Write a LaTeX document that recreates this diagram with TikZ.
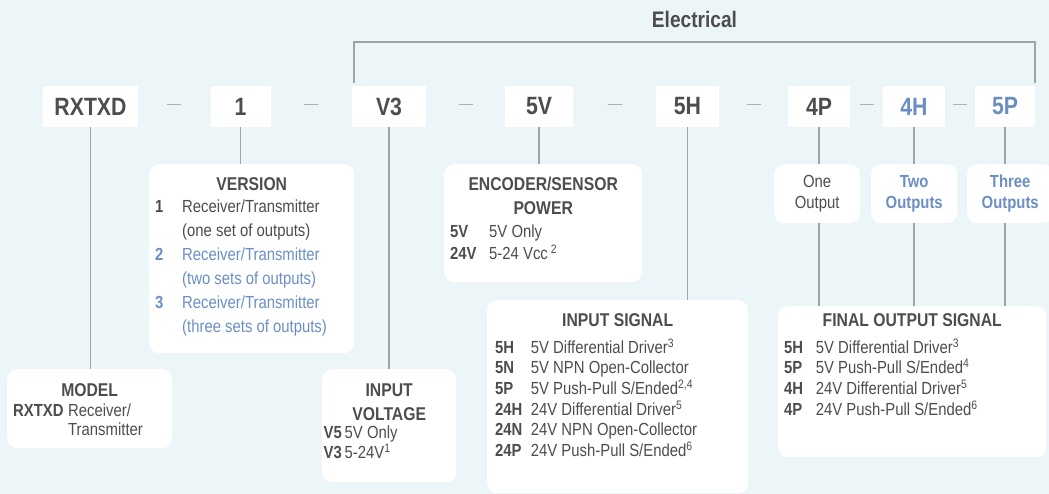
\documentclass[tikz,border=0pt]{standalone}
\usepackage{fontspec}
\setmainfont{Liberation Sans}[FakeStretch=0.85]
\usetikzlibrary{calc}

\definecolor{bg}{HTML}{ECF5F8}
\definecolor{ink}{HTML}{4D4D4D}
\definecolor{opt}{HTML}{6B8FC4}
\definecolor{rule}{HTML}{9BA6A8}
\definecolor{sepc}{HTML}{AAB4B6}

\newcommand{\keylist}[2]{\begin{tabular}[t]{@{}p{#1}@{}l@{}}#2\end{tabular}}
\newcommand{\alt}[1]{\textcolor{opt}{#1}}

\tikzset{
  code/.style={fill=white, inner sep=0pt, minimum height=41pt, text=ink,
    font=\bfseries\fontsize{25}{30}\selectfont},
  panel/.style={fill=white, rounded corners=10pt, inner sep=0pt, anchor=north west},
  head/.style={anchor=base, inner sep=0pt, align=center, text=ink,
    font=\bfseries\fontsize{18.5}{24}\selectfont},
  rows/.style={anchor=base west, inner sep=0pt, text=ink,
    font=\fontsize{17.5}{#1}\selectfont},
  outlbl/.style={inner sep=0pt, align=center, text=ink,
    font=\fontsize{17.5}{21}\selectfont},
  link/.style={draw=rule, line width=1.6pt},
  sep/.style={draw=sepc, line width=1.8pt},
}

\begin{document}
\begin{tikzpicture}[x=1pt, y=-1pt]
\useasboundingbox (0,0) rectangle (1049,494);
\fill[bg] (0,0) rectangle (1049,494);

% part number
\node (cModel) [code, minimum width=95pt] at (90.5,106.5) {RXTXD};
\node (cVer)   [code, minimum width=60pt] at (240.5,106.5) {1};
\node (cVolt)  [code, minimum width=74pt] at (389,106.5) {V3};
\node (cPow)   [code, minimum width=68pt] at (539,106.5) {5V};
\node (cIn)    [code, minimum width=63pt] at (687.5,106.5) {5H};
\node (cOutA)  [code, minimum width=62pt] at (819,106.5) {4P};
\node (cOutB)  [code, minimum width=62pt, text=opt] at (914,106.5) {4H};
\node (cOutC)  [code, minimum width=60pt, text=opt] at (1005,106.5) {5P};

\foreach \a/\b in {cModel/cVer, cVer/cVolt, cVolt/cPow, cPow/cIn, cIn/cOutA, cOutA/cOutB, cOutB/cOutC}
  \draw[sep] ($(\a.east)!.5!(\b.west)+(-7,-2)$) -- ++(14,0);

% electrical bracket
\draw[link] ([xshift=2pt,yshift=3pt]cVolt.north west) -- ++(0,-41) -| ([yshift=3pt]cOutC.north east);
\node (elec) [anchor=base, inner sep=0pt, text=ink, font=\bfseries\fontsize{22.5}{27}\selectfont] at (694.5,27.3) {Electrical};

% panels
\node (model) [panel, minimum width=165pt, minimum height=79pt] at (7,369) {};
\node (modelhd) [head] at ($(model.north)+(0,27)$) {MODEL};
\node (modells) [rows=19.3] at ($(model.north west)+(6,47)$)
  {\keylist{55pt}{\textbf{RXTXD} & Receiver/\\ & Transmitter}};

\node (version) [panel, minimum width=205pt, minimum height=189pt] at (149,164) {};
\node (versionhd) [head] at ($(version.north)+(0,27)$) {VERSION};
\node (versionls) [rows=23.9] at ($(version.north west)+(6,49)$)
  {\keylist{27pt}{\textbf{1} & Receiver/Transmitter\\
    & (one set of outputs)\\
    \alt{\textbf{2}} & \alt{Receiver/Transmitter}\\
    & \alt{(two sets of outputs)}\\
    \alt{\textbf{3}} & \alt{Receiver/Transmitter}\\
    & \alt{(three sets of outputs)}}};

% two-line heads sit on the baseline of their last line
\node (voltage) [panel, minimum width=134pt, minimum height=113pt] at (322,369) {};
\node (voltagehd) [head] at ($(voltage.north)+(0,51)$) {INPUT\\VOLTAGE};
\node (voltagels) [rows=18.4] at ($(voltage.north west)+(1.5,69.3)$)
  {\keylist{21pt}{\textbf{V5} & 5V Only\\ \textbf{V3} & 5-24V\textsuperscript{1}}};

\node (power) [panel, minimum width=198pt, minimum height=118pt] at (444,164) {};
\node (powerhd) [head] at ($(power.north)+(0,51)$) {ENCODER/SENSOR\\POWER};
\node (powerls) [rows=22.7] at ($(power.north west)+(6,73.3)$)
  {\keylist{39pt}{\textbf{5V} & 5V Only\\ \textbf{24V} & 5-24 Vcc\,\textsuperscript{2}}};

\node (insig) [panel, minimum width=261pt, minimum height=193pt] at (487,300) {};
\node (insighd) [head] at ($(insig.north)+(0,26.7)$) {INPUT SIGNAL};
\node (insigls) [rows=20.4] at ($(insig.north west)+(8,53.3)$)
  {\keylist{35.7pt}{\textbf{5H} & 5V Differential Driver\textsuperscript{3}\\
    \textbf{5N} & 5V NPN Open-Collector\\
    \textbf{5P} & 5V Push-Pull S/Ended\textsuperscript{2,4}\\
    \textbf{24H} & 24V Differential Driver\textsuperscript{5}\\
    \textbf{24N} & 24V NPN Open-Collector\\
    \textbf{24P} & 24V Push-Pull S/Ended\textsuperscript{6}}};

\node (one)   [panel, minimum width=86pt, minimum height=59pt] at (774,164) {};
\node (two)   [panel, minimum width=86pt, minimum height=59pt] at (871,164) {};
\node (three) [panel, minimum width=86pt, minimum height=59pt] at (967,164) {};
\node (onetxt)   [outlbl] at (one.center) {One\\Output};
\node (twotxt)   [outlbl, text=opt, font=\bfseries\fontsize{17.5}{21}\selectfont] at (two.center) {Two\\Outputs};
\node (threetxt) [outlbl, text=opt, font=\bfseries\fontsize{17.5}{21}\selectfont] at (three.center) {Three\\Outputs};

\node (final) [panel, minimum width=268pt, minimum height=151pt] at (778,306) {};
\node (finalhd) [head] at ($(final.north)+(0,20.7)$) {FINAL OUTPUT SIGNAL};
\node (finalls) [rows=20] at ($(final.north west)+(6,47.3)$)
  {\keylist{31.7pt}{\textbf{5H} & 5V Differential Driver\textsuperscript{3}\\
    \textbf{5P} & 5V Push-Pull S/Ended\textsuperscript{4}\\
    \textbf{4H} & 24V Differential Driver\textsuperscript{5}\\
    \textbf{4P} & 24V Push-Pull S/Ended\textsuperscript{6}}};

% connectors
\draw[link] (cModel.south) -- (cModel.south |- model.north);
\draw[link] (cVer.south) -- (cVer.south |- version.north);
\draw[link] (cVolt.south) -- (cVolt.south |- voltage.north);
\draw[link] (cPow.south) -- (cPow.south |- power.north);
\draw[link] (cIn.south) -- (cIn.south |- insig.north);
\foreach \c/\o in {cOutA/one, cOutB/two, cOutC/three} {
  \draw[link] (\c.south) -- (\c.south |- \o.north);
  \draw[link] (\c.south |- \o.south) -- (\c.south |- final.north);
}
\end{tikzpicture}
\end{document}
